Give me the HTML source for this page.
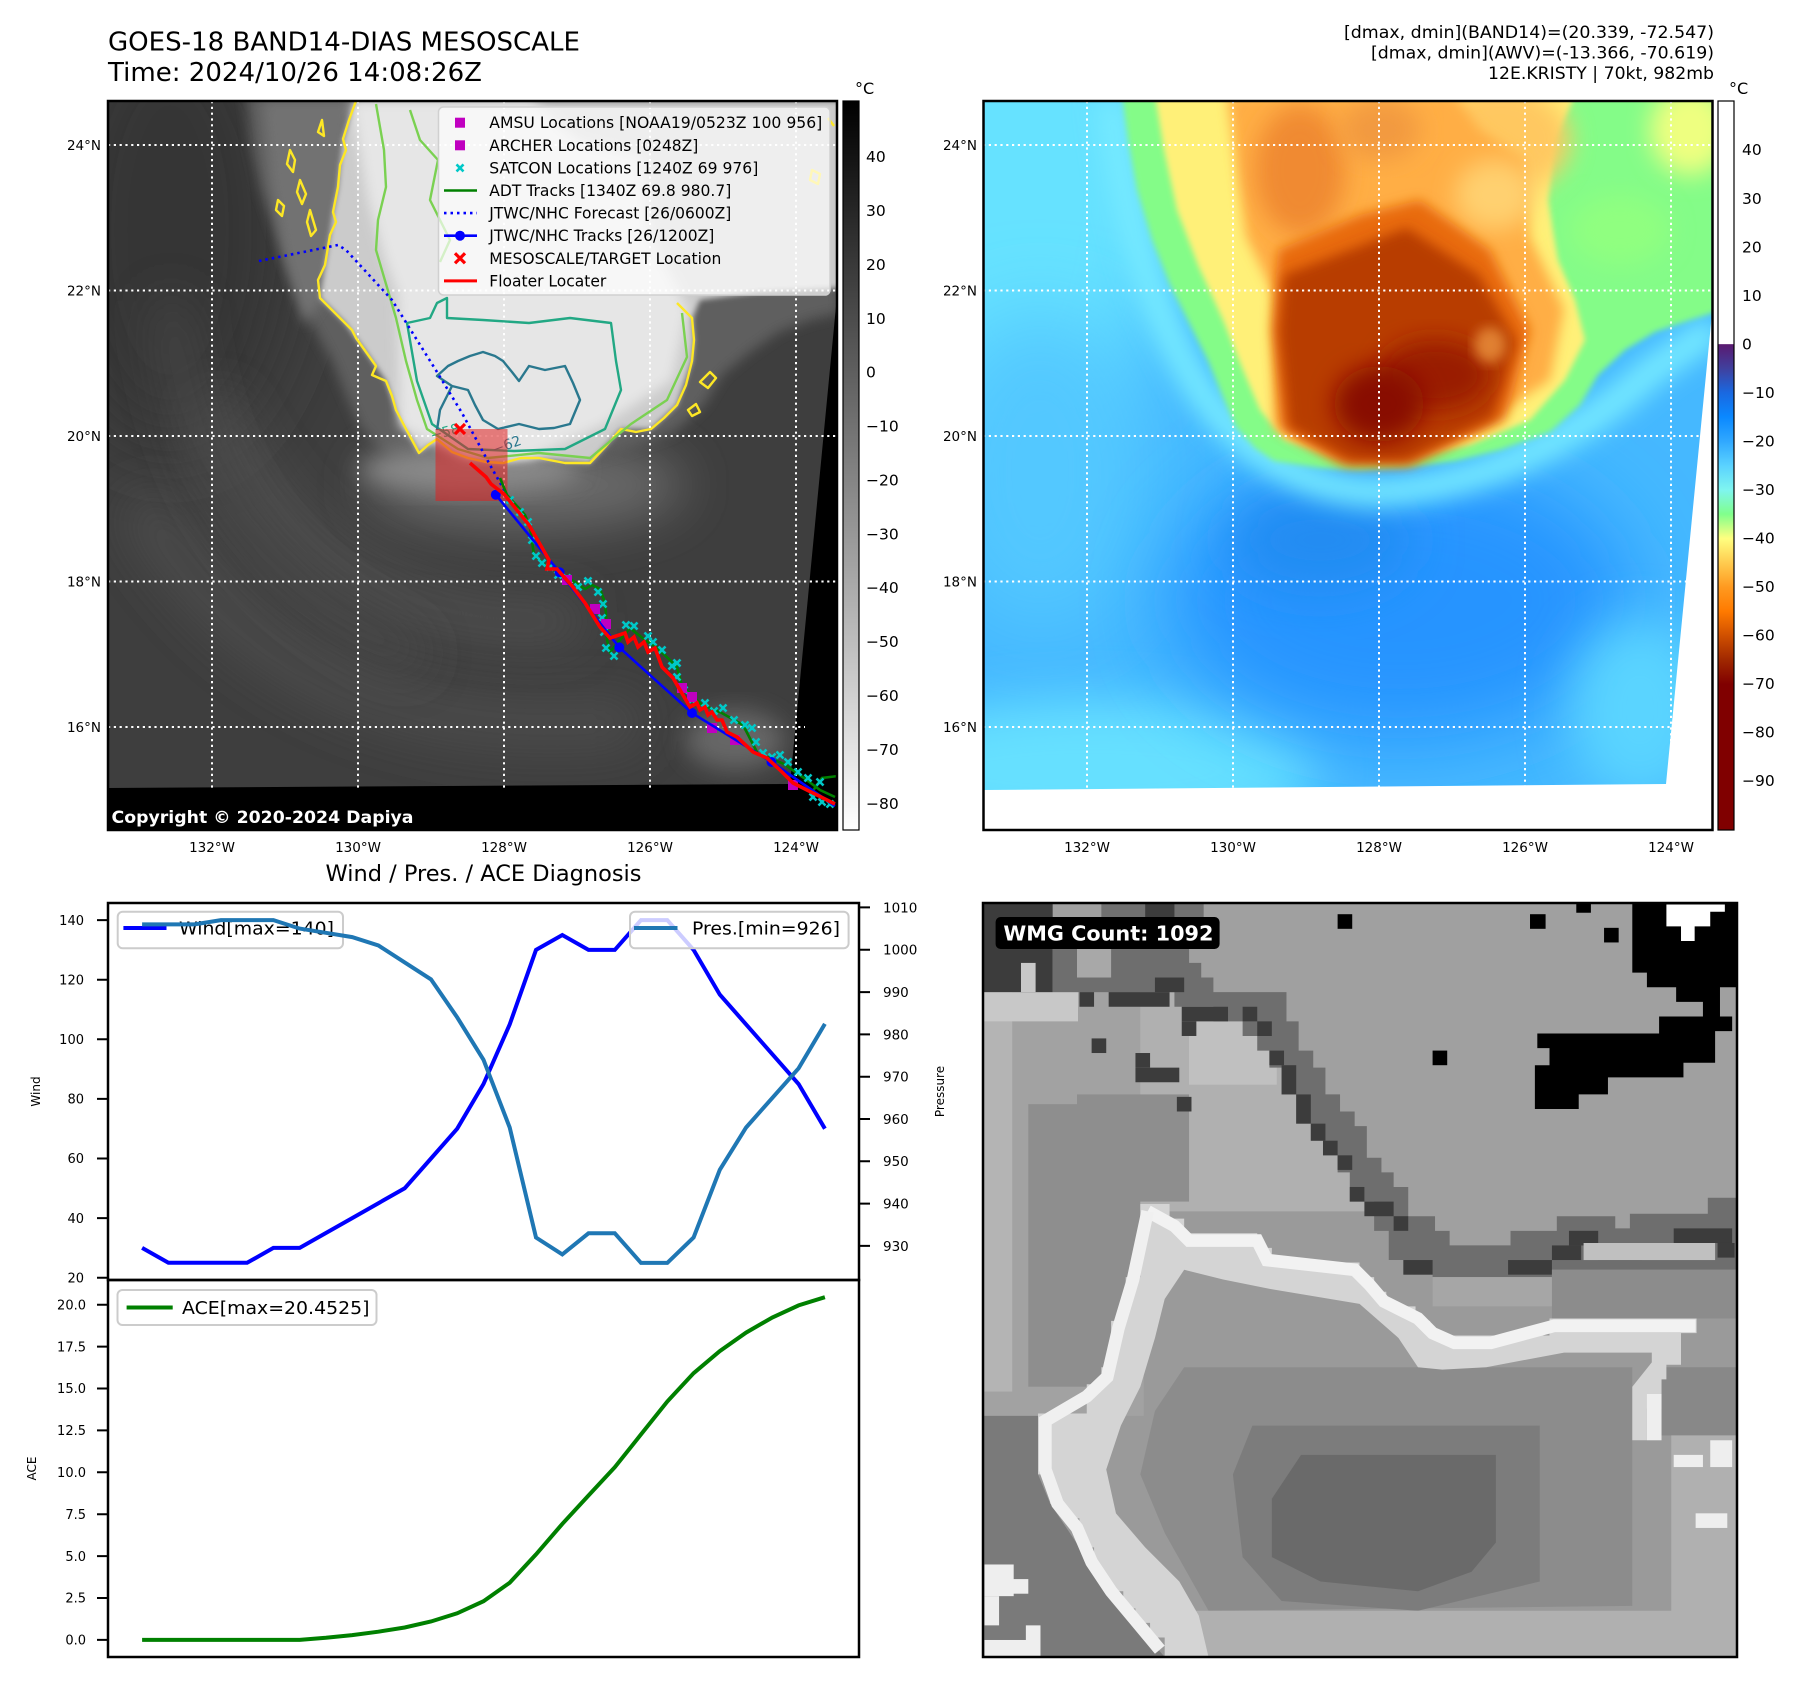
<!DOCTYPE html>
<html><head><meta charset="utf-8"><style>html,body{margin:0;padding:0;background:#fff}svg{display:block}text{font-family:"DejaVu Sans","Liberation Sans",sans-serif}</style></head>
<body>
<svg width="1801" height="1690" viewBox="0 0 1801 1690" xmlns="http://www.w3.org/2000/svg">
<defs>
<clipPath id="c1"><rect x="108" y="101" width="729" height="729"/></clipPath>
<clipPath id="c2"><rect x="983.5" y="101" width="729" height="729"/></clipPath>
<clipPath id="cw"><rect x="983" y="903" width="754" height="754"/></clipPath>
<filter id="b2" x="-20%" y="-20%" width="140%" height="140%"><feGaussianBlur stdDeviation="2"/></filter>
<filter id="b3" x="-20%" y="-20%" width="140%" height="140%"><feGaussianBlur stdDeviation="3"/></filter>
<filter id="b6" x="-20%" y="-20%" width="140%" height="140%"><feGaussianBlur stdDeviation="6"/></filter>
<filter id="b12" x="-30%" y="-30%" width="160%" height="160%"><feGaussianBlur stdDeviation="12"/></filter>
<filter id="b25" x="-50%" y="-50%" width="200%" height="200%"><feGaussianBlur stdDeviation="25"/></filter>
<filter id="b40" x="-60%" y="-60%" width="220%" height="220%"><feGaussianBlur stdDeviation="40"/></filter>
<linearGradient id="g1" x1="0" y1="0" x2="0" y2="1"><stop offset="0" stop-color="#000"/><stop offset="1" stop-color="#fff"/></linearGradient>
<linearGradient id="g2" x1="0" y1="0" x2="0" y2="1">
<stop offset="0" stop-color="#fff"/><stop offset="0.333" stop-color="#fff"/><stop offset="0.334" stop-color="#5a1a70"/>
<stop offset="0.3667" stop-color="#40409e"/><stop offset="0.4" stop-color="#1a68e0"/><stop offset="0.4333" stop-color="#0a88ff"/>
<stop offset="0.4667" stop-color="#30a8ff"/><stop offset="0.5" stop-color="#5ad2ff"/><stop offset="0.5333" stop-color="#7ff5f0"/>
<stop offset="0.5667" stop-color="#80ff8c"/><stop offset="0.6" stop-color="#ffff80"/><stop offset="0.6333" stop-color="#ffcc50"/>
<stop offset="0.6667" stop-color="#ff9a20"/><stop offset="0.7" stop-color="#ff7a00"/><stop offset="0.7333" stop-color="#d05000"/>
<stop offset="0.7667" stop-color="#a02800"/><stop offset="0.8" stop-color="#800000"/><stop offset="1" stop-color="#800000"/>
</linearGradient>
<path id="cx" d="M-3.5,-3.5L3.5,3.5M-3.5,3.5L3.5,-3.5" stroke="#00c8c8" stroke-width="2.6" fill="none"/>
<rect id="mg" x="-5" y="-5" width="10" height="10" fill="#c000c0"/>
</defs>

<!-- ============ TITLES ============ -->
<text x="108" y="50.5" font-size="26" textLength="472" lengthAdjust="spacingAndGlyphs">GOES-18 BAND14-DIAS MESOSCALE</text>
<text x="108" y="81" font-size="26" textLength="374" lengthAdjust="spacingAndGlyphs">Time: 2024/10/26 14:08:26Z</text>
<text x="1714" y="38" font-size="16.5" text-anchor="end" textLength="370" lengthAdjust="spacingAndGlyphs">[dmax, dmin](BAND14)=(20.339, -72.547)</text>
<text x="1714" y="58.5" font-size="16.5" text-anchor="end" textLength="343" lengthAdjust="spacingAndGlyphs">[dmax, dmin](AWV)=(-13.366, -70.619)</text>
<text x="1714" y="79" font-size="16.5" text-anchor="end" textLength="226" lengthAdjust="spacingAndGlyphs">12E.KRISTY | 70kt, 982mb</text>

<!-- ============ MAP 1 (grayscale IR) ============ -->
<g clip-path="url(#c1)">
<rect x="108" y="101" width="729" height="729" fill="#3e3e3e"/>
<ellipse cx="170" cy="230" rx="120" ry="220" fill="#363636" filter="url(#b40)"/>
<path d="M140,500 Q290,760 640,720" stroke="#4d4d4d" stroke-width="45" fill="none" filter="url(#b25)"/>
<path d="M210,400 Q320,640 580,620" stroke="#525252" stroke-width="35" fill="none" filter="url(#b25)"/>
<path d="M170,300 Q190,560 420,660" stroke="#494949" stroke-width="30" fill="none" filter="url(#b25)"/>
<ellipse cx="525" cy="485" rx="160" ry="45" fill="#6a6a6a" filter="url(#b25)"/>
<ellipse cx="735" cy="740" rx="50" ry="30" fill="#666" filter="url(#b12)"/>
<polygon points="246,95 252,150 261,190 278,240 294,285 312,325 332,361 346,395 360,427 380,448 398,461 440,468 484,470 530,467 579,461 625,450 674,432 704,405 722,375 750,352 779,332 810,320 840,313 840,95" fill="#5e5e5e" filter="url(#b6)"/>
<polygon points="262,101 352,101 340,220 322,300 305,325 285,260 270,180" fill="#727272" filter="url(#b6)"/>
<ellipse cx="470" cy="470" rx="110" ry="22" fill="#8a8a8a" filter="url(#b12)"/>
<polygon points="356,101 349,120 343,139 340,165 338,187 333,212 330,235 325,265 320,298 345,323 366,352 386,381 396,410 406,429 419,453 437,439 468,458 503,463 539,458 590,463 621,429 651,429 677,405 692,361 694,340 692,318 700,300 760,292 840,288 840,101" fill="#cbcbcb" filter="url(#b3)"/>
<polygon points="351,101 368,200 385,260 398,295 400,427 465,458 531,458 603,425 672,380 688,309 650,237 641,157 579,142 531,101" fill="#e6e6e6" filter="url(#b6)"/>
<polygon points="837,296 790,784 108,788 108,832 840,832 840,296" fill="#000"/>
<g stroke="#fff" stroke-width="2" stroke-dasharray="2.2,3.6" fill="none">
<path d="M212,101V790M358,101V790M504,101V790M650,101V788M796,101V786"/>
<path d="M108,145H837M108,290.5H837M108,436H837M108,581.5H837M108,727H805"/>
</g>
<!-- contours -->
<g fill="none" stroke-width="2.4" stroke-linejoin="round">
<path stroke="#fde725" d="M356,101 L349,120 L343,139 L346,150 L340,165 L338,187 L333,212 L336,222 L330,235 L325,265 L318,280 L320,298 L330,308 L345,323 L352,330 L356,338 L366,352 L376,366 L372,375 L386,381 L392,396 L396,410 L406,429 L412,440 L419,453 L428,445 L437,439 L452,452 L468,458 L486,462 L503,463 L521,458 L539,458 L565,463 L590,463 L606,446 L621,429 L636,432 L651,429 L664,418 L677,405 L686,385 L692,361 L694,340 L692,318 L677,303"/>
<path stroke="#fde725" d="M290,150 l5,10 l-2,12 l-6,-8z M300,180 l6,14 l-4,10 l-5,-12z M278,200 l6,6 l-2,10 l-6,-6z M310,210 l6,20 l-5,6 l-4,-14z M322,120 l-4,12 l6,4z M700,382 l10,-10 l6,6 l-8,10z M688,410 l8,-6 l4,8 l-8,4z M812,170 l8,4 l-2,10 l-8,-4z M828,118 l6,8"/>
<path stroke="#7ad151" d="M376,104 L384,150 L386,187 L378,220 L376,250 L386,284 L396,318 L406,361 L417,400 L427,429 L458,449 L488,458 L539,453 L590,458 L631,424 L667,400 L687,357 L682,313 M410,110 L420,140 L438,160 L430,200 L450,240 L440,262"/>
<path stroke="#22a884" d="M447,298 L437,303 L430,318 L407,323 L417,381 L432,424 L468,449 L514,451 L565,449 L605,429 L621,390 L616,361 L611,323 L570,318 L529,323 L483,320 L447,318 Z"/>
<path stroke="#2a788e" d="M437,376 L448,366 L458,361 L470,356 L483,352 L495,356 L503,361 L512,372 L519,381 L529,366 L545,370 L565,366 L573,383 L580,400 L570,424 L554,428 L539,429 L519,424 L498,429 L483,420 L475,405 L468,390 L452,386 Z M452,386 L440,410 L437,430"/>
</g>
<text x="430" y="438" font-size="14" fill="#22a884" transform="rotate(-15 440 432)">−58</text>
<text x="492" y="452" font-size="14" fill="#2a788e" transform="rotate(-20 500 446)">−62</text>
<!-- floater box -->
<rect x="435.5" y="429" width="72" height="72" fill="#e02020" fill-opacity="0.55"/>
<!-- forecast -->
<polyline points="259,261 338,245 346,250 392,300 437,372 462,413 490,465 507,495" fill="none" stroke="#0000ff" stroke-width="2.6" stroke-dasharray="2.5,4"/>
<!-- ADT -->
<polyline points="500,478 507,495 525,515 530,527 534,555 545,565 554,570 572,580 585,589 592,585 600,589 604,600 606,613 607,640 610,652 630,628 645,640 656,647 670,660 677,667 682,686 702,705 720,712 743,725 758,754 770,758 784,764 804,778 820,790 835,797" fill="none" stroke="#008000" stroke-width="2.6"/>
<polyline points="812,792 822,778 838,776" fill="none" stroke="#008000" stroke-width="2.6"/>
<!-- SATCON -->
<g>
<use href="#cx" x="510" y="500"/><use href="#cx" x="520" y="512"/><use href="#cx" x="528" y="522"/><use href="#cx" x="532" y="540"/><use href="#cx" x="536" y="556"/><use href="#cx" x="542" y="563"/><use href="#cx" x="550" y="567"/><use href="#cx" x="558" y="575"/><use href="#cx" x="567" y="578"/><use href="#cx" x="578" y="587"/><use href="#cx" x="588" y="581"/><use href="#cx" x="598" y="592"/><use href="#cx" x="603" y="604"/><use href="#cx" x="602" y="618"/><use href="#cx" x="604" y="632"/><use href="#cx" x="606" y="648"/><use href="#cx" x="614" y="656"/><use href="#cx" x="626" y="625"/><use href="#cx" x="634" y="626"/><use href="#cx" x="648" y="636"/><use href="#cx" x="653" y="642"/><use href="#cx" x="662" y="650"/><use href="#cx" x="672" y="666"/><use href="#cx" x="677" y="663"/><use href="#cx" x="677" y="677"/><use href="#cx" x="684" y="690"/><use href="#cx" x="692" y="700"/><use href="#cx" x="705" y="703"/><use href="#cx" x="714" y="711"/><use href="#cx" x="723" y="708"/><use href="#cx" x="734" y="720"/><use href="#cx" x="745" y="725"/><use href="#cx" x="752" y="728"/><use href="#cx" x="756" y="742"/><use href="#cx" x="763" y="753"/><use href="#cx" x="772" y="757"/><use href="#cx" x="780" y="755"/><use href="#cx" x="788" y="762"/><use href="#cx" x="798" y="772"/><use href="#cx" x="808" y="778"/><use href="#cx" x="820" y="782"/><use href="#cx" x="813" y="797"/><use href="#cx" x="822" y="802"/><use href="#cx" x="830" y="804"/>
</g>
<!-- AMSU/ARCHER -->
<use href="#mg" x="567" y="580"/><use href="#mg" x="595" y="609"/><use href="#mg" x="606" y="624"/><use href="#mg" x="682" y="688"/><use href="#mg" x="692" y="697"/><use href="#mg" x="712" y="728"/><use href="#mg" x="735" y="740"/><use href="#mg" x="793" y="785"/>
<!-- JTWC tracks -->
<polyline points="495.8,494.7 559.6,572.3 619.3,647.4 692,713 771.5,762 835,806" fill="none" stroke="#0000ff" stroke-width="2.6"/>
<g fill="#0000ff"><circle cx="495.8" cy="494.7" r="5"/><circle cx="559.6" cy="572.3" r="5"/><circle cx="619.3" cy="647.4" r="5"/><circle cx="692" cy="713" r="5"/><circle cx="771.5" cy="762" r="5"/></g>
<!-- Floater locater -->
<polyline points="470,463 486,477 491,484 504,494 529,525 549,560 547,569 557,569 572,586 585,603 600,627 610,638 625,633 628,642 634,637 638,647 644,642 648,652 655,648 662,667 673,678 690,707 697,703 700,710 705,707 708,715 712,712 717,720 722,720 727,732 737,737 753,752 767,758 780,770 793,783 813,793 835,804" fill="none" stroke="#ff0000" stroke-width="3.6"/>
<path d="M455,424 l10,10 M465,424 l-10,10" stroke="#ff0000" stroke-width="3.2"/>
<!-- legend -->
<rect x="438.5" y="107" width="391.5" height="188" rx="5" fill="#fff" fill-opacity="0.68" stroke="#d0d0d0" stroke-width="1.5"/>
<rect x="455" y="117.7" width="10" height="10" fill="#c000c0"/>
<rect x="455" y="140.3" width="10" height="10" fill="#c000c0"/>
<use href="#cx" x="460" y="167.9"/>
<line x1="444" y1="190.5" x2="477" y2="190.5" stroke="#008000" stroke-width="2.6"/>
<line x1="444" y1="213.1" x2="477" y2="213.1" stroke="#0000ff" stroke-width="2.6" stroke-dasharray="2.5,4"/>
<line x1="444" y1="235.7" x2="477" y2="235.7" stroke="#0000ff" stroke-width="2.6"/><circle cx="460" cy="235.7" r="5" fill="#0000ff"/>
<path d="M455,253.3 l10,10 M465,253.3 l-10,10" stroke="#ff0000" stroke-width="3.2"/>
<line x1="444" y1="280.9" x2="477" y2="280.9" stroke="#ff0000" stroke-width="3"/>
<g font-size="15.6" fill="#000">
<text x="489.3" y="128.2" textLength="333" lengthAdjust="spacingAndGlyphs">AMSU Locations [NOAA19/0523Z 100 956]</text>
<text x="489.3" y="150.8" textLength="209" lengthAdjust="spacingAndGlyphs">ARCHER Locations [0248Z]</text>
<text x="489.3" y="173.4" textLength="269" lengthAdjust="spacingAndGlyphs">SATCON Locations [1240Z 69 976]</text>
<text x="489.3" y="196" textLength="242" lengthAdjust="spacingAndGlyphs">ADT Tracks [1340Z 69.8 980.7]</text>
<text x="489.3" y="218.6" textLength="242" lengthAdjust="spacingAndGlyphs">JTWC/NHC Forecast [26/0600Z]</text>
<text x="489.3" y="241.2" textLength="225" lengthAdjust="spacingAndGlyphs">JTWC/NHC Tracks [26/1200Z]</text>
<text x="489.3" y="263.8" textLength="232" lengthAdjust="spacingAndGlyphs">MESOSCALE/TARGET Location</text>
<text x="489.3" y="286.4" textLength="117" lengthAdjust="spacingAndGlyphs">Floater Locater</text>
</g>
<text x="111.5" y="823" font-size="16.5" font-weight="bold" fill="#fff" textLength="302" lengthAdjust="spacingAndGlyphs">Copyright © 2020-2024 Dapiya</text>
</g>
<rect x="108" y="101" width="729" height="729" fill="none" stroke="#000" stroke-width="2.5"/>
<!-- colorbar 1 -->
<rect x="843" y="101" width="16" height="729" fill="url(#g1)" stroke="#000" stroke-width="1.2"/>
<text x="855" y="94" font-size="16">°C</text>
<g font-size="15.5">
<text x="866" y="162.2">40</text><text x="866" y="216.1">30</text><text x="866" y="270">20</text><text x="866" y="323.8">10</text><text x="866" y="377.7">0</text>
<text x="866" y="431.6">−10</text><text x="866" y="485.5">−20</text><text x="866" y="539.4">−30</text><text x="866" y="593.2">−40</text><text x="866" y="647.1">−50</text><text x="866" y="701">−60</text><text x="866" y="754.9">−70</text><text x="866" y="808.8">−80</text>
</g>
<g font-size="13.5" text-anchor="end">
<text x="101" y="150">24°N</text><text x="101" y="295.5">22°N</text><text x="101" y="441">20°N</text><text x="101" y="586.5">18°N</text><text x="101" y="732">16°N</text>
<text x="977" y="150">24°N</text><text x="977" y="295.5">22°N</text><text x="977" y="441">20°N</text><text x="977" y="586.5">18°N</text><text x="977" y="732">16°N</text>
</g>
<g font-size="13.5" text-anchor="middle">
<text x="212" y="852">132°W</text><text x="358" y="852">130°W</text><text x="504" y="852">128°W</text><text x="650" y="852">126°W</text><text x="796" y="852">124°W</text>
<text x="1087" y="852">132°W</text><text x="1233" y="852">130°W</text><text x="1379" y="852">128°W</text><text x="1525" y="852">126°W</text><text x="1671" y="852">124°W</text>
</g>

<!-- ============ MAP 2 (AWV colour) ============ -->
<g clip-path="url(#c2)">
<rect x="983.5" y="101" width="729" height="729" fill="#45b8ff"/>
<ellipse cx="1020" cy="190" rx="150" ry="260" fill="#66e2ff" filter="url(#b40)"/>
<ellipse cx="1040" cy="470" rx="110" ry="160" fill="#52c8ff" filter="url(#b40)"/>
<ellipse cx="1090" cy="770" rx="230" ry="70" fill="#66e0ff" filter="url(#b25)"/>
<ellipse cx="1400" cy="600" rx="230" ry="140" fill="#2894ff" filter="url(#b40)"/>
<ellipse cx="1320" cy="540" rx="90" ry="50" fill="#208cf2" filter="url(#b25)"/>
<ellipse cx="1640" cy="710" rx="70" ry="90" fill="#5ad4ff" filter="url(#b25)"/>
<path d="M1110,100 Q1130,280 1200,390 Q1270,490 1380,492 Q1530,482 1650,372 L1715,328" stroke="#76eaff" stroke-width="30" fill="none" filter="url(#b12)"/>
<polygon points="1122,95 1128,140 1137,190 1152,240 1170,285 1190,325 1208,361 1222,395 1236,427 1255,448 1274,461 1320,468 1360,470 1410,467 1455,461 1500,450 1550,432 1580,405 1598,375 1625,350 1655,332 1690,320 1716,312 1716,95" fill="#84fc88" filter="url(#b3)"/>
<polygon points="1155,95 1164,150 1177,210 1198,265 1223,320 1243,370 1260,410 1285,440 1330,455 1370,458 1420,455 1470,445 1530,420 1565,380 1585,340 1575,300 1558,260 1548,200 1555,140 1575,95" fill="#fff078" filter="url(#b3)"/>
<ellipse cx="1690" cy="130" rx="40" ry="45" fill="#eeff80" filter="url(#b12)"/>
<ellipse cx="1620" cy="230" rx="50" ry="35" fill="#90ff80" filter="url(#b12)"/>
<ellipse cx="1500" cy="140" rx="70" ry="55" fill="#ffc860" filter="url(#b12)"/>
<polygon points="1227,95 1246,237 1274,294 1274,427 1341,461 1407,461 1479,427 1550,380 1564,309 1530,237 1525,160 1480,130 1455,95" fill="#ffae45" filter="url(#b6)"/>
<ellipse cx="1495" cy="195" rx="40" ry="35" fill="#ffd070" filter="url(#b12)"/>
<ellipse cx="1300" cy="170" rx="45" ry="65" fill="#f08a30" filter="url(#b12)"/>
<ellipse cx="1380" cy="130" rx="40" ry="30" fill="#f29a40" filter="url(#b12)"/>
<polygon points="1278,250 1360,215 1420,200 1490,250 1530,330 1505,420 1410,465 1345,465 1282,430 1272,330" fill="#e86a10" filter="url(#b6)"/>
<polygon points="1284,275 1407,228 1479,275 1517,342 1493,418 1407,461 1350,461 1289,427 1279,332" fill="#b83c00" filter="url(#b6)"/>
<ellipse cx="1435" cy="375" rx="55" ry="35" fill="#9a1c00" filter="url(#b12)"/>
<ellipse cx="1379" cy="404" rx="45" ry="38" fill="#880a00" filter="url(#b12)"/>
<ellipse cx="1490" cy="345" rx="16" ry="18" fill="#e08030" filter="url(#b6)"/>
<polygon points="1713.5,298 1666,784 983,790 983,832 1716,832 1716,298" fill="#fff"/>
<g stroke="#fff" stroke-width="2" stroke-dasharray="2.2,3.6" fill="none">
<path d="M1087,101V790M1233,101V790M1379,101V790M1525,101V788M1671,101V786"/>
<path d="M983,145H1712M983,290.5H1712M983,436H1712M983,581.5H1712M983,727H1680"/>
</g>
</g>
<rect x="983.5" y="101" width="729" height="729" fill="none" stroke="#000" stroke-width="2.5"/>
<rect x="1718" y="101" width="16" height="729" fill="url(#g2)" stroke="#000" stroke-width="1.2"/>
<text x="1729" y="94" font-size="16">°C</text>
<g font-size="15.5">
<text x="1742" y="155.2">40</text><text x="1742" y="203.8">30</text><text x="1742" y="252.3">20</text><text x="1742" y="300.8">10</text><text x="1742" y="349.4">0</text>
<text x="1742" y="397.9">−10</text><text x="1742" y="446.4">−20</text><text x="1742" y="495">−30</text><text x="1742" y="543.5">−40</text><text x="1742" y="592">−50</text><text x="1742" y="640.6">−60</text><text x="1742" y="689.1">−70</text><text x="1742" y="737.6">−80</text><text x="1742" y="786.2">−90</text>
</g>

<!-- ============ WIND / PRES ============ -->
<text x="483.5" y="881" font-size="22" text-anchor="middle" textLength="316" lengthAdjust="spacingAndGlyphs">Wind / Pres. / ACE Diagnosis</text>
<polyline points="142.1,1247.9 168.4,1262.8 194.6,1262.8 220.9,1262.8 247.1,1262.8 273.4,1247.9 299.7,1247.9 325.9,1233.0 352.2,1218.1 378.4,1203.2 404.7,1188.3 431.0,1158.5 457.2,1128.7 483.5,1084.0 509.7,1024.4 536.0,949.9 562.3,935.0 588.5,949.9 614.8,949.9 641.0,920.1 667.3,920.1 693.6,949.9 719.8,994.6 746.1,1024.4 772.3,1054.2 798.6,1084.0 824.9,1128.7" fill="none" stroke="#0000ff" stroke-width="4"/>
<rect x="117.7" y="911.7" width="225.3" height="36.6" rx="5" fill="#fff" fill-opacity="0.8" stroke="#cccccc" stroke-width="2"/>
<line x1="123.4" y1="928" x2="166.5" y2="928" stroke="#0000ff" stroke-width="4"/>
<text x="179" y="934.5" font-size="17.5" textLength="155" lengthAdjust="spacingAndGlyphs">Wind[max=140]</text>
<polyline points="142.1,924.4 168.4,924.4 194.6,924.4 220.9,920.1 247.1,920.1 273.4,920.1 299.7,928.6 325.9,932.8 352.2,937.1 378.4,945.5 404.7,962.4 431.0,979.4 457.2,1017.4 483.5,1059.8 509.7,1127.5 536.0,1237.5 562.3,1254.4 588.5,1233.3 614.8,1233.3 641.0,1262.9 667.3,1262.9 693.6,1237.5 719.8,1169.8 746.1,1127.5 772.3,1097.9 798.6,1068.3 824.9,1023.9" fill="none" stroke="#1f77b4" stroke-width="4"/>
<rect x="630" y="911.7" width="218.6" height="36.6" rx="5" fill="#fff" fill-opacity="0.8" stroke="#cccccc" stroke-width="2"/>
<line x1="634" y1="928" x2="677.5" y2="928" stroke="#1f77b4" stroke-width="4"/>
<text x="692" y="934.5" font-size="17.5" textLength="148" lengthAdjust="spacingAndGlyphs">Pres.[min=926]</text>
<rect x="108" y="903" width="751" height="377" fill="none" stroke="#000" stroke-width="2.5"/>
<g stroke="#000" stroke-width="2">
<path d="M97,1277.7H108M97,1218.1H108M97,1158.5H108M97,1098.9H108M97,1039.3H108M97,979.7H108M97,920.1H108"/>
<path d="M859,1245.9H870M859,1203.6H870M859,1161.3H870M859,1119H870M859,1076.7H870M859,1034.4H870M859,992.1H870M859,949.7H870M859,907.4H870"/>
</g>
<g font-size="13" text-anchor="end">
<text x="84" y="1282.4">20</text><text x="84" y="1222.8">40</text><text x="84" y="1163.2">60</text><text x="84" y="1103.6">80</text><text x="84" y="1044">100</text><text x="84" y="984.4">120</text><text x="84" y="924.8">140</text>
</g>
<g font-size="13.5">
<text x="883" y="1250.8">930</text><text x="883" y="1208.5">940</text><text x="883" y="1166.2">950</text><text x="883" y="1123.9">960</text><text x="883" y="1081.6">970</text><text x="883" y="1039.3">980</text><text x="883" y="997">990</text><text x="883" y="954.6">1000</text><text x="883" y="912.3">1010</text>
</g>
<text font-size="12" text-anchor="middle" transform="translate(40,1091.5) rotate(-90)">Wind</text>
<text font-size="12" text-anchor="middle" transform="translate(944,1091.5) rotate(-90)">Pressure</text>

<!-- ============ ACE ============ -->
<polyline points="142.1,1639.9 168.4,1639.9 194.6,1639.9 220.9,1639.9 247.1,1639.9 273.4,1639.9 299.7,1639.9 325.9,1637.8 352.2,1635.1 378.4,1631.7 404.7,1627.5 431.0,1621.5 457.2,1613.3 483.5,1601.2 509.7,1582.7 536.0,1554.4 562.3,1523.9 588.5,1495.5 614.8,1467.2 641.0,1434.4 667.3,1401.5 693.6,1373.2 719.8,1351.1 746.1,1332.6 772.3,1317.5 798.6,1305.4 824.9,1297.2" fill="none" stroke="#008000" stroke-width="4"/>
<rect x="117.5" y="1290" width="259" height="35" rx="5" fill="#fff" fill-opacity="0.8" stroke="#cccccc" stroke-width="2"/>
<line x1="126.6" y1="1307.5" x2="172.7" y2="1307.5" stroke="#008000" stroke-width="4"/>
<text x="182" y="1314" font-size="17.5" textLength="187.5" lengthAdjust="spacingAndGlyphs">ACE[max=20.4525]</text>
<rect x="108" y="1280" width="751" height="377" fill="none" stroke="#000" stroke-width="2.5"/>
<g stroke="#000" stroke-width="2">
<path d="M97,1639.9H108M97,1598H108M97,1556.1H108M97,1514.2H108M97,1472.3H108M97,1430.4H108M97,1388.5H108M97,1346.6H108M97,1304.7H108"/>
</g>
<g font-size="13" text-anchor="end">
<text x="86" y="1644.6">0.0</text><text x="86" y="1602.7">2.5</text><text x="86" y="1560.8">5.0</text><text x="86" y="1518.9">7.5</text><text x="86" y="1477">10.0</text><text x="86" y="1435.1">12.5</text><text x="86" y="1393.2">15.0</text><text x="86" y="1351.3">17.5</text><text x="86" y="1309.4">20.0</text>
</g>
<text font-size="12" text-anchor="middle" transform="translate(36,1468.5) rotate(-90)">ACE</text>

<!-- ============ WMG ============ -->
<g clip-path="url(#cw)">
<g transform="translate(983,903) scale(0.4871) translate(-7,-7)">
<rect x="7" y="7" width="1548" height="1548" fill="#9a9a9a"/>
<rect x="7" y="190" width="330" height="870" fill="#a2a2a2"/>
<rect x="7" y="190" width="60" height="820" fill="#b4b4b4"/>
<rect x="100" y="420" width="230" height="580" fill="#8e8e8e"/>
<rect x="330" y="190" width="520" height="450" fill="#b0b0b0"/>
<rect x="200" y="400" width="230" height="220" fill="#8e8e8e"/>
<rect x="7" y="190" width="195" height="60" fill="#c8c8c8"/>
<rect x="430" y="250" width="180" height="130" fill="#c0c0c0"/>
<polygon points="380,100 1555,100 1555,760 1175,760 1175,775 930,775 930,770 870,770 870,740 840,740 840,680 810,680 810,620 760,620 760,560 735,560 735,525 705,525 705,495 680,495 680,460 650,460 650,400 620,400 620,345 595,345 595,310 570,310 570,280 540,280 540,250 480,250 480,220 400,220 400,160 380,160" fill="#6e6e6e"/>
<rect x="150" y="7" width="280" height="93" fill="#a0a0a0"/>
<polygon points="430,7 1555,7 1555,612 1495,612 1495,645 1335,645 1335,675 1305,675 1305,650 1185,650 1185,680 1090,680 1090,710 965,710 965,680 935,680 935,650 880,650 880,590 850,590 850,560 825,560 825,530 795,530 795,465 770,465 770,435 740,435 740,400 710,400 710,345 685,345 685,310 655,310 655,250 630,250 630,190 480,190 480,160 455,160 455,130 430,130" fill="#a0a0a0"/>
<rect x="7" y="7" width="143" height="183" fill="#3c3c3c"/>
<rect x="150" y="100" width="280" height="90" fill="#6e6e6e"/>
<rect x="200" y="100" width="70" height="60" fill="#a8a8a8"/>
<rect x="85" y="130" width="30" height="60" fill="#c8c8c8"/>
<rect x="250" y="7" width="210" height="33" fill="#707070"/>
<rect x="340" y="7" width="60" height="33" fill="#3c3c3c"/>
<g fill="#3c3c3c">
<rect x="360" y="160" width="60" height="30"/><rect x="205" y="190" width="30" height="30"/><rect x="265" y="190" width="125" height="30"/><rect x="415" y="220" width="95" height="30"/><rect x="415" y="250" width="30" height="30"/><rect x="540" y="220" width="30" height="30"/><rect x="570" y="250" width="30" height="30"/><rect x="595" y="310" width="30" height="30"/><rect x="620" y="340" width="30" height="60"/><rect x="650" y="400" width="30" height="60"/><rect x="680" y="460" width="30" height="35"/><rect x="705" y="495" width="30" height="30"/><rect x="735" y="525" width="30" height="30"/><rect x="760" y="590" width="30" height="30"/><rect x="790" y="620" width="60" height="30"/><rect x="850" y="650" width="30" height="30"/><rect x="870" y="740" width="60" height="30"/><rect x="1085" y="740" width="90" height="30"/><rect x="1175" y="710" width="60" height="30"/><rect x="1210" y="680" width="60" height="30"/><rect x="1270" y="710" width="90" height="30"/><rect x="1425" y="675" width="120" height="30"/><rect x="1515" y="705" width="35" height="30"/><rect x="230" y="285" width="30" height="30"/><rect x="320" y="315" width="30" height="30"/><rect x="320" y="345" width="90" height="30"/><rect x="405" y="405" width="30" height="30"/>
</g>
<rect x="1240" y="705" width="270" height="35" fill="#c0c0c0"/>
<rect x="930" y="775" width="245" height="60" fill="#a6a6a6"/>
<rect x="1175" y="760" width="380" height="100" fill="#8c8c8c"/>
<polygon points="1340,7 1555,7 1555,180 1520,180 1520,240 1545,240 1545,270 1510,270 1510,335 1445,335 1445,365 1290,365 1290,400 1230,400 1230,430 1140,430 1140,340 1170,340 1170,305 1145,305 1145,275 1395,275 1395,240 1485,240 1485,210 1430,210 1430,180 1370,180 1370,150 1340,150" fill="#000"/>
<polygon points="1410,10 1530,10 1530,25 1500,25 1500,55 1468,55 1468,85 1440,85 1440,55 1410,55" fill="#fff"/>
<g fill="#000"><rect x="735" y="30" width="30" height="30"/><rect x="1130" y="30" width="32" height="30"/><rect x="1282" y="58" width="30" height="30"/><rect x="930" y="310" width="30" height="30"/><rect x="1225" y="7" width="30" height="20"/></g>
<polygon points="7,1060 120,1060 120,1180 145,1240 205,1330 265,1420 320,1485 380,1555 7,1555" fill="#7a7a7a"/>
<polygon points="420,960 1340,960 1340,1450 470,1460 380,1300 330,1180 360,1050" fill="#8c8c8c"/>
<polygon points="560,1080 1150,1080 1150,1400 900,1460 620,1440 540,1350 520,1180" fill="#7c7c7c"/>
<polygon points="660,1140 1060,1140 1060,1320 1010,1380 900,1420 700,1400 600,1350 600,1230" fill="#6a6a6a"/>
<rect x="430" y="1460" width="1070" height="95" fill="#b0b0b0"/>
<rect x="1400" y="960" width="155" height="140" fill="#888"/>
<rect x="1420" y="1100" width="135" height="455" fill="#b0b0b0"/>
<polygon points="330,625 390,625 390,655 420,655 420,685 570,685 570,715 600,715 600,745 780,745 780,775 810,775 810,805 835,805 835,835 895,835 895,865 925,865 925,895 1045,895 1170,895 1170,860 1472,860 1472,890 1440,890 1440,955 1410,955 1410,985 1400,985 1400,1045 1370,1045 1370,1110 1340,1110 1340,1000 1380,950 1380,930 1200,930 1040,960 950,965 900,960 860,900 780,830 600,800 500,780 420,760 380,820 360,900 330,1000 290,1080 260,1170 280,1260 340,1330 410,1400 450,1470 470,1555 380,1555 380,1515 350,1515 350,1485 320,1485 320,1455 295,1455 295,1420 265,1420 265,1390 235,1390 235,1330 205,1330 205,1270 175,1270 175,1240 145,1240 145,1180 120,1180 120,1055 220,1055 220,995 250,995 250,960 270,960 270,865 300,865 300,775 330,775" fill="#d4d4d4"/>
<polyline points="345,640 400,670 430,700 570,700 590,740 770,760 800,790 830,825 900,860 930,890 975,910 1050,910 1180,875 1470,875" fill="none" stroke="#f2f2f2" stroke-width="26"/>
<polyline points="345,640 315,780 285,880 262,980 220,1020 135,1070 135,1170 160,1240 200,1290 230,1360 270,1420 320,1480 370,1540" fill="none" stroke="#f0f0f0" stroke-width="26"/>
<g fill="#eeeeee"><rect x="10" y="1365" width="60" height="65"/><rect x="40" y="1395" width="60" height="30"/><rect x="10" y="1430" width="30" height="60"/><rect x="10" y="1520" width="110" height="35"/><rect x="95" y="1490" width="30" height="65"/><rect x="1470" y="1260" width="65" height="30"/><rect x="1500" y="1110" width="45" height="55"/><rect x="1425" y="1140" width="60" height="25"/><rect x="1370" y="1015" width="30" height="95"/></g>
</g>
</g>
<rect x="983" y="903" width="754" height="754" fill="none" stroke="#000" stroke-width="2.5"/>
<rect x="995.6" y="917" width="224" height="32" rx="5" fill="#000"/>
<text x="1003.4" y="940.5" font-size="20" font-weight="bold" fill="#fff" textLength="210" lengthAdjust="spacingAndGlyphs">WMG Count: 1092</text>
</svg>
</body></html>
